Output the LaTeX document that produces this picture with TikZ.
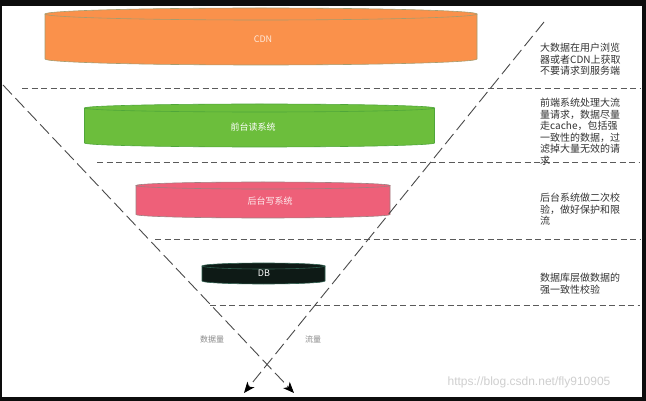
\documentclass[tikz,border=0pt]{standalone}
\usepackage{fontspec}
\setmainfont{Noto Sans CJK SC}
\newfontfamily\urlfont{Liberation Sans}
\usepackage{xcolor}
\definecolor{frame}{HTML}{0D0D0D}
\definecolor{cdnfill}{HTML}{FA914B}
\definecolor{cdnedge}{HTML}{A59C6E}
\definecolor{readfill}{HTML}{6CBE3C}
\definecolor{readedge}{HTML}{4FA63A}
\definecolor{writefill}{HTML}{EE6079}
\definecolor{writeedge}{HTML}{A07E80}
\definecolor{dbfill}{HTML}{0E1A16}
\definecolor{dbedge}{HTML}{2E5E4E}
\definecolor{rule}{HTML}{5A5A5A}
\definecolor{axisgrey}{HTML}{4A4A4A}
\definecolor{ink}{HTML}{333333}
\definecolor{taggrey}{HTML}{8A8A8A}
\definecolor{mark}{HTML}{CFCFCF}
\usetikzlibrary{arrows.meta}
\tikzset{
  >={Stealth[length=11pt,width=9pt,inset=3pt,color=black]},
  sep/.style   ={draw=rule,dash pattern=on 6pt off 3.5pt,line width=0.8pt},
  axis/.style  ={->,draw=axisgrey,dash pattern=on 13pt off 5pt,line width=0.9pt},
  note/.style  ={font=\fontsize{10}{11.5}\selectfont,text=ink,align=left,
                 anchor=north west,inner sep=0pt},
  layer/.style ={font=\fontsize{9}{10}\selectfont,inner sep=1pt},
  tag/.style   ={font=\fontsize{8}{9}\selectfont,text=taggrey,inner sep=1pt},
}

\begin{document}
\begin{tikzpicture}[x=1pt,y=-1pt]
\useasboundingbox (0,0) rectangle (646,401);
% screenshot frame
\fill[frame] (0,0) rectangle (646,401);
\fill[white] (1.5,6.5) rectangle (641.5,396.5);
% CDN
\draw[cdnedge,fill=cdnfill,line width=0.6pt] (45,14) -- (45,59) arc[start angle=180,end angle=360,x radius=216pt,y radius=6pt] -- (477,14);
\draw[cdnedge,fill=cdnfill,line width=0.6pt] (261,14) ellipse[x radius=216pt,y radius=6pt];
\node[layer,text=white!80!cdnfill] (cdn) at (263,39) {CDN};
% read system
\draw[readedge,fill=readfill,line width=0.6pt] (84.5,108) -- (84.5,143) arc[start angle=180,end angle=360,x radius=175pt,y radius=4pt] -- (434.5,108);
\draw[readedge,fill=readfill,line width=0.6pt] (259.5,108) ellipse[x radius=175pt,y radius=4pt];
\node[layer,text=white] (readsys) at (253,127) {前台读系统};
% write system
\draw[writeedge,fill=writefill,line width=0.6pt] (136,185.5) -- (136,214.5) arc[start angle=180,end angle=360,x radius=127pt,y radius=3.5pt] -- (390,185.5);
\draw[writeedge,fill=writefill,line width=0.6pt] (263,185.5) ellipse[x radius=127pt,y radius=3.5pt];
\node[layer,text=white!90!writefill] (writesys) at (270,201) {后台写系统};
% DB
\draw[dbedge,fill=dbfill,line width=0.6pt] (202,266) -- (202,281) arc[start angle=180,end angle=360,x radius=61.5pt,y radius=3pt] -- (325,266);
\draw[dbedge,fill=dbfill,line width=0.6pt] (263.5,266) ellipse[x radius=61.5pt,y radius=3pt];
\node[layer,text=white] (db) at (264,273) {DB};
% separators
\coordinate (s1a) at (22,88);  \coordinate (s1b) at (640,88);
\coordinate (s2a) at (97,162); \coordinate (s2b) at (640,162);
\coordinate (s3a) at (155,239); \coordinate (s3b) at (640,239);
\coordinate (s4a) at (210,305); \coordinate (s4b) at (640,305);
\draw[sep] (s1a) -- (s1b);
\draw[sep] (s2a) -- (s2b);
\draw[sep] (s3a) -- (s3b);
\draw[sep] (s4a) -- (s4b);
% funnel axes
\coordinate (volstart) at (3,85);   \coordinate (volend) at (294,393);
\coordinate (flowstart) at (544,22); \coordinate (flowend) at (244,393);
\draw[axis] (volstart) -- (volend);
\draw[axis] (flowstart) -- (flowend);
\node[tag] (vol) at (212,339) {数据量};
\node[tag] (flow) at (313,339) {流量};
% notes
\node[note] (note1) at (540,43) {大数据在用户浏览\\器或者CDN上获取\\不要请求到服务端};
\node[note] (note2) at (540,98) {前端系统处理大流\\量请求，数据尽量\\走cache，包括强\\一致性的数据，过\\滤掉大量无效的请\\求};
\node[note] (note3) at (540,193) {后台系统做二次校\\验，做好保护和限\\流};
\node[note] (note4) at (540,273) {数据库层做数据的\\强一致性校验};
% watermark
\node[font=\urlfont\fontsize{12}{14}\selectfont,text=mark,inner sep=0pt] (url) at (529,382) {https://blog.csdn.net/fly910905};
\end{tikzpicture}
\end{document}
